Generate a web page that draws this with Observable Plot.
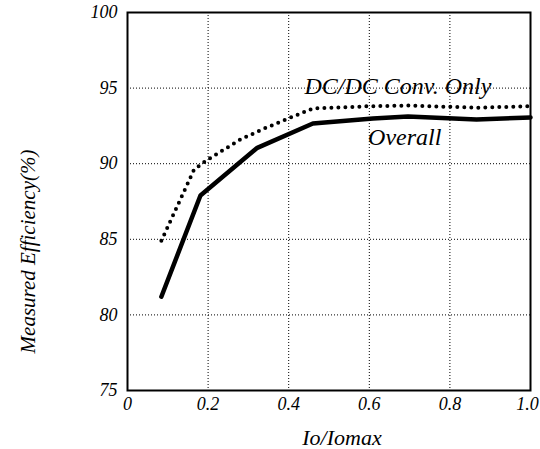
<!DOCTYPE html>
<html>
<head>
<meta charset="utf-8">
<script src="https://cdn.jsdelivr.net/npm/d3@7"></script>
<script src="https://cdn.jsdelivr.net/npm/@observablehq/plot@0.6"></script>
<style>
  html, body { margin: 0; padding: 0; background: #fff; }
  svg { display: block; }
  svg text { font-family: "Liberation Serif", "DejaVu Serif", serif !important; font-style: italic; }
</style>
</head>
<body>
<div id="chart"></div>
<script>
const xTicks = [0, 0.2, 0.4, 0.6, 0.8, 1.0];
const xTickLabels = ["0", "0.2", "0.4", "0.6", "0.8", "1.0"];
const yTicks = [75, 80, 85, 90, 95, 100];

const overallX = [0.084, 0.181, 0.322, 0.46, 0.609, 0.696, 0.866, 1.0];
const overallY = [81.2, 87.9, 91.05, 92.66, 92.99, 93.12, 92.92, 93.06];

const dcX = [0.084, 0.165, 0.195, 0.28, 0.337, 0.40, 0.46, 0.60, 0.70, 0.866, 1.0];
const dcY = [84.9, 89.6, 90.2, 91.6, 92.3, 93.0, 93.65, 93.8, 93.85, 93.7, 93.8];

const seriesLabels = ["DC/DC Conv. Only", "Overall"];
const labelX = [0.671, 0.688];
const labelY = [95.1, 91.75];

const overall = overallX.map((x, i) => ({x, y: overallY[i]}));
const dc = dcX.map((x, i) => ({x, y: dcY[i]}));
const labels = seriesLabels.map((t, i) => ({t, x: labelX[i], y: labelY[i]}));

const serif = "Liberation Serif";

const chart = Plot.plot({
  width: 540,
  height: 449,
  marginLeft: 127,
  marginRight: 10,
  marginTop: 12,
  marginBottom: 59,
  x: {domain: [0, 1]},
  y: {domain: [75, 100]},
  style: {fontFamily: serif, fontStyle: "italic", background: "white", color: "black"},
  marks: [
    Plot.gridX(xTicks.slice(1, -1), {stroke: "black", strokeOpacity: 1, strokeWidth: 1, strokeDasharray: "1,2"}),
    Plot.gridY(yTicks.slice(1, -1), {stroke: "black", strokeOpacity: 1, strokeWidth: 1, strokeDasharray: "1,2"}),
    Plot.frame({stroke: "black", strokeWidth: 2}),
    Plot.axisX(xTicks.slice(0, -1), {tickSize: 0, tickPadding: 7, fontSize: 18, fontFamily: serif, tickFormat: d => xTickLabels[xTicks.indexOf(d)], label: null}),
    Plot.axisX(xTicks.slice(-1), {tickSize: 0, tickPadding: 7, fontSize: 18, fontFamily: serif, dx: -3, tickFormat: d => xTickLabels[xTicks.indexOf(d)], label: null}),
    Plot.axisY(yTicks, {tickSize: 0, tickPadding: 10, fontSize: 18, fontFamily: serif, label: null}),
    Plot.text(["Io/Iomax"], {frameAnchor: "bottom", lineAnchor: "middle", dy: 47, dx: 13, fontSize: 22, fontFamily: serif, text: d => d}),
    Plot.text(["Measured Efficiency(%)"], {frameAnchor: "left", textAnchor: "middle", dx: -99, dy: 50, rotate: -90, fontSize: 21, fontFamily: serif, text: d => d}),
    Plot.line(dc, {x: "x", y: "y", stroke: "black", strokeWidth: 4, strokeDasharray: "0 7", strokeLinecap: "round"}),
    Plot.line(overall, {x: "x", y: "y", stroke: "black", strokeWidth: 4.5}),
    Plot.text(labels, {x: "x", y: "y", text: "t", fontSize: 24, fontFamily: serif})
  ]
});
document.getElementById("chart").appendChild(chart);
</script>
</body>
</html>
